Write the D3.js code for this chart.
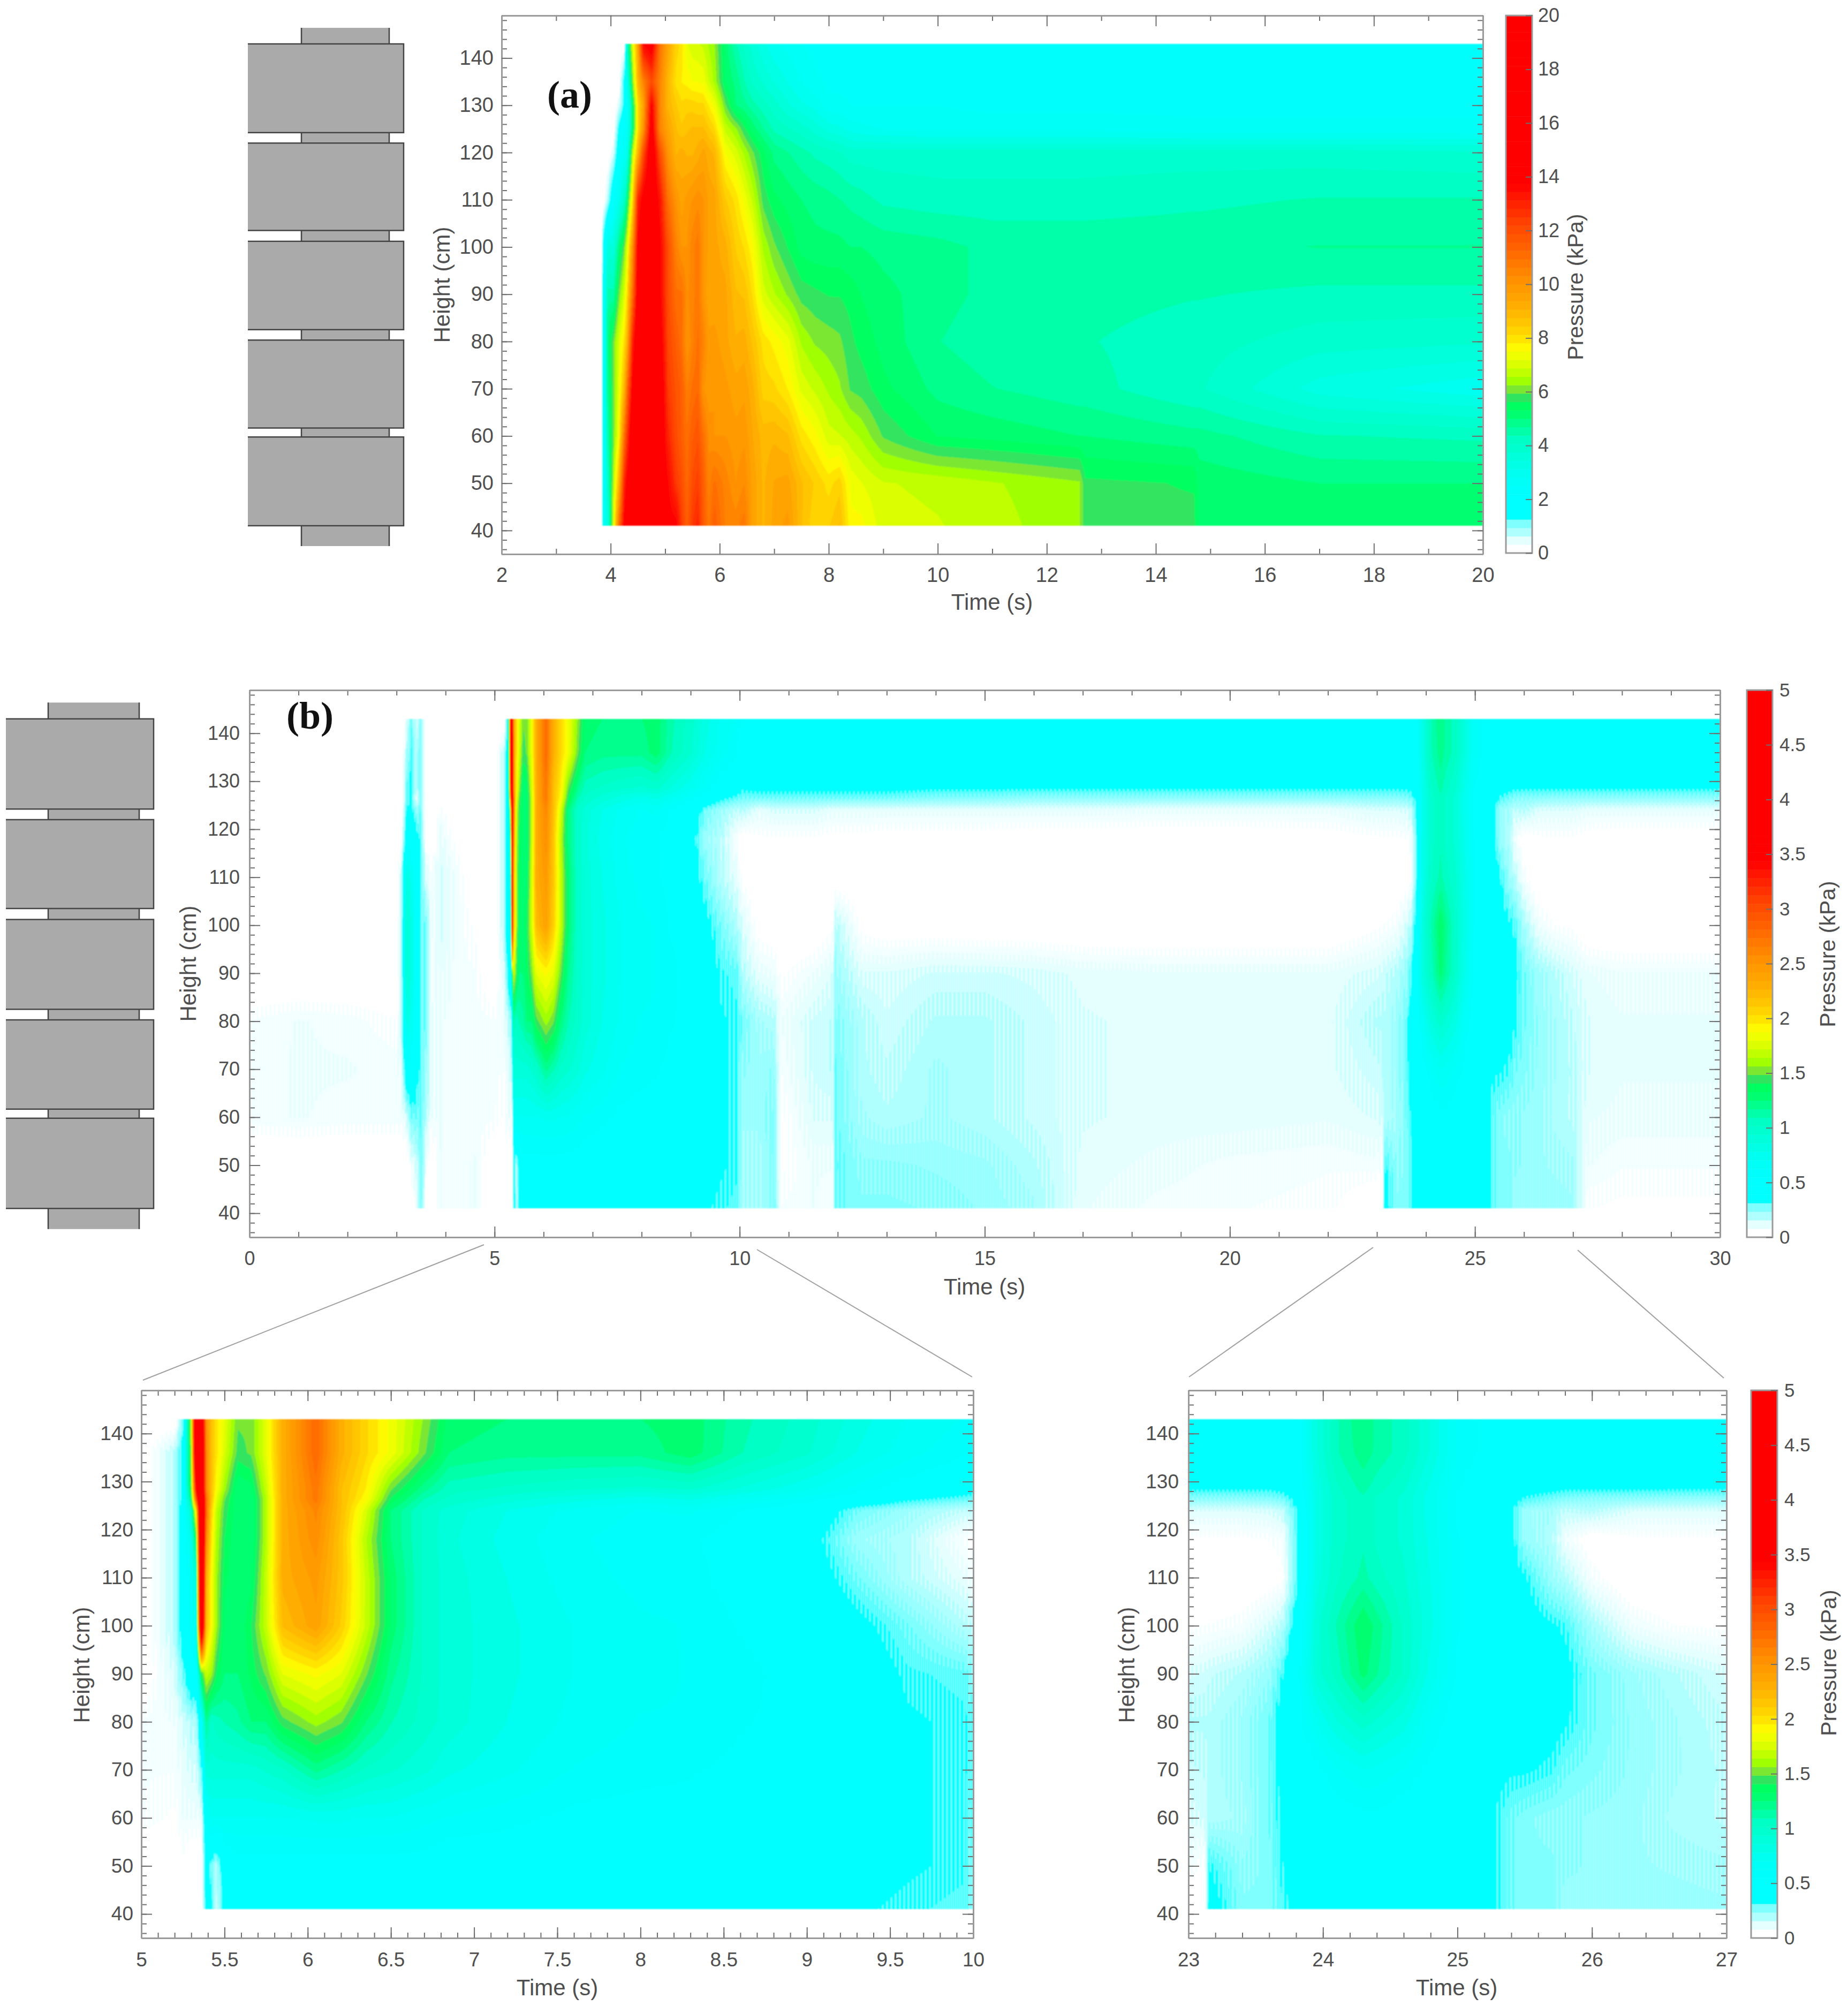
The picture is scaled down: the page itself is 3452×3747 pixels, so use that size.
<!DOCTYPE html>
<html><head><meta charset="utf-8">
<script src="https://cdnjs.cloudflare.com/ajax/libs/d3/7.8.5/d3.min.js"></script>
<style>html,body{margin:0;padding:0;background:#fff}svg{display:block}</style>
</head><body><svg id="fig" width="3452" height="3747" xmlns="http://www.w3.org/2000/svg"></svg>
<script>
// ---------- DATA (pressure in kPa) ----------
const aHeights=[41,50,60,70,80,90,100,110,120,125,130,135,143];
const aTimes=[3.83,3.86,3.95,4.05,4.15,4.25,4.3,4.4,4.5,4.6,4.75,4.9,5.05,5.2,5.3,5.4,5.5,5.6,5.7,5.8,5.9,6.1,6.3,6.45,6.6,6.8,7,7.25,7.5,7.75,8,8.2,8.4,8.6,9,10,11,12.6,12.7,14.7,14.8,17,20];
const aValues=[
[0,0,0,0,0,0,0,0,0,0,0,0,0],
[2.5,2,2,2,2,2,1.5,0,0,0,0,0,0],
[3.5,4,4.5,4.8,5,4.5,3.5,.8,0,0,0,0,0],
[7,6.5,6,6,6,4.5,3.5,2.2,.5,0,0,0,0],
[11,9,7.5,7.2,7,6,5,3,2,1.5,.5,0,0],
[14,13,11,9,8,7,6,4,2.6,2.2,1.5,1.6,0],
[14.5,14,12.5,11,9,8,7,5,3,2.6,2.2,3,4],
[15,15,15,14,13,11,10,8,6.5,5,5,6,7],
[15,15,15,15,15,14.5,14,13,9,8,8,9,9.5],
[15,15,15,15,15,15,15,14.2,12,10,9.5,10.5,13.8],
[15,15,15,15,15,15,15,15,15,14.5,14,12,14.5],
[15,15,15,15,14.5,14,14,13.5,12,10.5,10.5,10.5,11],
[14.2,13.8,13,12.5,12.2,12,12,11,10,9.5,9,9,9.5],
[14,12.5,12,11.8,11.5,11,10.5,10,9,8.8,8.5,8,8.3],
[12.5,12,11.5,11.5,11,11,10,9.5,9.2,8.5,8.2,7.8,8],
[11.5,11.2,11,10.6,10,10.2,10,9.8,9,8.7,8.3,7.7,7.2],
[12.5,12,11.5,11,10.5,10.5,10.5,10,9,8.8,8.3,7.5,7],
[13,12.4,11.8,11.2,11,10.8,10.8,10.2,9.2,8.8,8.2,7.5,6.9],
[11.6,11.5,11,10,10.5,10,10,10,9.5,8.8,8.2,7.4,6.8],
[10.8,10.5,10.2,9.8,9.8,9.4,9.6,9.6,9.2,8.5,7.8,6.9,6.5],
[11.5,11,10,10,9.8,9.5,9.5,9.5,9,8.2,7.4,6.5,6.3],
[10.6,10.5,10,9.8,9.5,9.5,9.2,8.5,7.5,6.8,6,5.3,5.2],
[10.5,10,9.8,9.5,9.1,8.8,8.4,8,7,6.3,5,4.9,4.4],
[10.8,10.3,9.9,9.6,9.2,8.7,8.1,7.4,6.5,5.7,4.8,4.4,4],
[9.6,9.6,9.4,9.2,8.7,8.1,7.6,6.8,6,5.2,4.5,4,3.6],
[9,9,8.9,8.3,8,7,6.5,5.8,5.4,4.7,4.2,3.7,3.2],
[9.5,9.4,9,8.2,7.7,6.6,6,5.4,4.9,4.3,3.9,3.4,2.9],
[9.8,9.5,8.8,7.8,7.3,6.2,5.6,5.2,4.7,4.1,3.5,3.1,2.7],
[8.8,8.8,8,7.1,6.5,5.8,5.2,5,4.5,3.9,3.2,2.8,2.5],
[8.2,8.4,7.6,6.8,6.2,5.7,5.1,4.9,4.3,3.6,3,2.6,2.4],
[8.4,8,7,6.5,6.1,5.6,5.1,4.8,4.2,3.3,2.6,2.4,2.4],
[8.8,8.3,6.9,6.3,6,5.6,5.1,4.7,4.1,3.2,2.6,2.4,2.4],
[7.6,7.4,6.7,5.9,5.7,5.5,5,4.6,3.9,3,2.5,2.4,2.4],
[7.6,7.2,6.5,5.8,5.5,5.3,5,4.5,3.9,2.9,2.5,2.4,2.4],
[7,6.9,5.9,5.4,5.2,5.1,4.9,4.3,3.9,2.8,2.5,2.4,2.4],
[6.9,6.8,5.3,4.9,4.7,4.8,4.8,4.2,3.9,2.7,2.5,2.4,2.4],
[6.7,6.6,5.2,4.7,4.5,4.6,4.6,4.2,3.9,2.7,2.4,2.4,2.4],
[6.3,6.3,5,4.5,4.4,4.5,4.6,4.2,3.9,2.7,2.4,2.4,2.4],
[5.7,5.7,5,4.5,4.4,4.5,4.6,4.2,3.9,2.7,2.4,2.4,2.4],
[5.7,5.6,4.8,4.1,4.2,4.4,4.6,4.3,3.9,2.6,2.4,2.4,2.4],
[5.2,5.2,4.8,4.1,4.2,4.4,4.6,4.3,3.9,2.6,2.4,2.4,2.4],
[5,5,4.4,3.3,3.9,4.3,4.7,4.4,3.9,2.6,2.4,2.4,2.4],
[5,5,4.3,2.9,3.8,4.3,4.7,4.4,3.8,2.6,2.4,2.4,2.4]
];
const bHeights=[41,50,60,70,80,90,100,110,118,124,126.5,128.5,136,143];
const bTimes=[0,1,2,3,3.1,3.2,3.3,3.4,3.5,3.6,3.7,3.9,4.2,4.6,5,5.2,5.25,5.3,5.33,5.36,5.39,5.42,5.45,5.5,5.58,5.66,5.75,5.85,6.05,6.2,6.35,6.5,6.7,6.85,7.2,7.6,8,8.3,8.6,9,9.3,9.6,9.95,10.05,10.4,10.7,10.85,11.5,11.9,11.95,12.5,13,14,15,16,17,18.5,20,22,23,23.12,23.15,23.4,23.6,23.7,23.8,23.95,24.1,24.3,24.4,24.6,24.8,25,25.25,25.4,25.5,25.7,25.8,26,26.3,26.6,27,27.3,28,30];
const bValues=[
[0,0,.09,.09,.08,0,0,0,0,0,0,0,0,0],
[0,0,.1,.1,.1,0,0,0,0,0,0,0,0,0],
[0,0,.09,.1,.09,0,0,0,0,0,0,0,0,0],
[0,0,.09,.09,.06,0,0,0,0,0,0,0,0,0],
[0,0,.09,.12,.2,.2,.2,.2,.05,0,0,0,0,0],
[0,0,.15,.5,.8,.95,.95,.85,.45,.35,.3,.3,.2,.1],
[0,.1,.3,.5,.75,.85,.85,.75,.45,.4,.35,.35,.35,.3],
[.1,.15,.3,.4,.45,.5,.5,.45,.4,.25,.1,.2,.2,.15],
[.3,.3,.3,.3,.3,.3,.3,.3,.3,.3,.3,.3,.3,.3],
[.05,.1,.2,.25,.3,.3,.3,.15,.05,0,0,0,0,0],
[0,0,.1,.12,.1,.09,.09,.09,0,0,0,0,0,0],
[.1,.1,.1,.1,.1,.12,.15,.15,.12,.08,0,0,0,0],
[.09,.09,.09,.09,.09,.09,.1,.1,.05,0,0,0,0,0],
[.1,.1,.09,.09,.09,.08,.05,0,0,0,0,0,0,0],
[0,0,.08,.08,.08,0,0,0,0,0,0,0,0,0],
[0,0,.05,.08,.1,.15,.2,.2,.2,.2,.2,.2,.2,0],
[0,.05,.1,.12,.15,.3,.45,.45,.45,.45,.4,.4,.4,.3],
[0,0,.1,.15,.2,.5,.6,.7,.8,1,1.3,1.5,1.6,1.7],
[0,0,.1,.15,.2,.5,.7,.9,1.4,2,3,3.5,4.5,4.6],
[0,0,.1,.3,.6,1.4,4.5,4.8,4.8,4.8,4.6,4.4,4.4,4.2],
[.4,.45,.6,.9,1.2,1.7,2.2,2.3,2.6,2.8,2.8,2.6,2.6,2.5],
[.4,.3,.7,.9,1,1.6,1.9,1.9,2,2.1,2.2,2.2,2.2,2.2],
[.15,.2,.7,.9,1.05,1.4,1.6,1.6,1.65,1.7,1.8,1.9,2,2],
[.4,.45,.7,.9,1.1,1.25,1.3,1.35,1.4,1.45,1.5,1.6,1.75,1.8],
[.35,.5,.7,.9,1.15,1.25,1.25,1.25,1.25,1.25,1.25,1.25,1.45,1.5],
[.4,.5,.7,.9,1.25,1.35,1.4,1.3,1.25,1.25,1.25,1.3,1.5,1.5],
[.4,.5,.7,.95,1.25,1.5,1.7,1.7,1.65,1.65,1.65,1.7,1.8,1.8],
[.4,.5,.7,1,1.45,1.8,2.2,2.3,2.3,2.3,2.3,2.3,2.3,2.3],
[.4,.5,.72,1.2,1.6,1.9,2.4,2.45,2.55,2.6,2.7,2.7,2.8,2.8],
[.4,.5,.72,1.1,1.5,1.8,2.1,2.15,2.15,2.2,2.2,2.2,2.3,2.3],
[.4,.5,.7,1,1.25,1.5,1.7,1.7,1.65,1.75,1.9,1.95,2.05,2.05],
[.4,.5,.7,.95,1.1,1.2,1.3,1.3,1.25,1.25,1.4,1.5,1.85,1.85],
[.4,.5,.65,.88,.98,1,1,1,1,1,1.1,1.2,1.5,1.55],
[.4,.45,.62,.8,.9,.9,.9,.9,.88,.9,1,1.05,1.25,1.3],
[.38,.45,.58,.72,.78,.8,.8,.78,.75,.78,.9,1,1.2,1.25],
[.38,.42,.52,.62,.68,.7,.7,.66,.64,.68,.82,.95,1.2,1.25],
[.38,.42,.5,.58,.62,.65,.64,.6,.58,.62,.75,.92,1.2,1.25],
[.38,.42,.5,.56,.62,.62,.62,.58,.56,.64,.8,.95,1.3,1.3],
[.36,.4,.45,.52,.56,.58,.54,.5,.5,.55,.7,.85,1.1,1.12],
[.36,.4,.42,.48,.5,.5,.46,.42,.4,.46,.6,.72,.95,.98],
[.36,.38,.4,.42,.44,.42,.38,.3,.24,.3,.48,.6,.78,.82],
[.34,.36,.36,.36,.36,.34,.3,.2,.2,.24,.38,.5,.66,.7],
[.32,.34,.34,.34,.34,.32,.2,.12,.07,.18,.32,.42,.56,.62],
[.22,.22,.24,.26,.3,.2,.15,.05,.02,.2,.3,.36,.5,.55],
[.22,.22,.24,.24,.22,.12,.03,0,.05,.12,.3,.38,.5,.5],
[.28,.28,.28,.26,.2,.1,.02,0,.05,.15,.3,.38,.45,.48],
[.08,.05,.05,.08,.1,.05,0,0,.05,.15,.3,.38,.45,.48],
[.1,.1,.14,.16,.16,.1,0,0,.05,.15,.3,.38,.45,.45],
[.08,.1,.14,.18,.18,.14,.05,0,.04,.12,.3,.38,.42,.42],
[.3,.32,.3,.3,.28,.24,.2,.01,.04,.12,.3,.38,.42,.42],
[.28,.26,.22,.2,.2,.14,.04,0,.04,.12,.3,.38,.42,.42],
[.28,.26,.2,.18,.16,.14,.02,0,.03,.12,.3,.38,.42,.42],
[.27,.25,.22,.22,.2,.16,.02,0,.03,.12,.28,.36,.42,.42],
[.25,.24,.2,.2,.2,.16,.01,0,.03,.12,.28,.36,.42,.42],
[.22,.2,.17,.17,.17,.15,.01,0,.02,.12,.26,.36,.42,.42],
[.12,.13,.14,.14,.14,.13,0,0,.02,.12,.26,.36,.42,.42],
[.09,.11,.13,.13,.13,.12,0,0,.02,.11,.26,.36,.42,.42],
[.08,.09,.13,.13,.13,.12,0,0,.02,.11,.26,.36,.42,.42],
[.07,.08,.12,.13,.13,.12,0,0,.03,.11,.26,.36,.42,.42],
[0,.09,.14,.17,.2,.15,.05,0,.05,.14,.27,.36,.42,.42],
[0,.05,.16,.18,.2,.16,.06,0,.05,.14,.27,.36,.42,.42],
[.4,.35,.2,.2,.2,.17,.06,0,.05,.14,.27,.36,.42,.42],
[.28,.26,.22,.24,.24,.2,.08,0,.05,.14,.27,.36,.42,.42],
[.28,.28,.3,.3,.3,.25,.15,.02,.06,.15,.28,.36,.42,.42],
[.33,.35,.36,.38,.4,.34,.2,.05,.08,.18,.3,.38,.45,.45],
[.38,.38,.4,.44,.5,.52,.42,.3,.3,.34,.38,.44,.5,.5],
[.4,.4,.44,.52,.7,.9,.9,.82,.8,.8,.8,.8,.85,.85],
[.42,.42,.48,.62,.85,1.05,1.1,1,.98,.98,.98,1,1.08,1.08],
[.42,.46,.52,.7,.98,1.28,1.33,1.12,1.08,1.08,1.08,1.12,1.22,1.25],
[.42,.46,.52,.68,.92,1.18,1.22,1.05,1,1,1,1.05,1.15,1.15],
[.42,.42,.48,.62,.82,1,1,.95,.92,.92,.92,.95,1.05,1.05],
[.38,.4,.44,.52,.62,.75,.8,.78,.76,.74,.74,.76,.85,.85],
[.38,.38,.4,.44,.48,.54,.56,.56,.56,.54,.54,.56,.62,.62],
[.36,.36,.36,.38,.42,.44,.44,.44,.44,.44,.44,.44,.5,.5],
[.3,.3,.3,.36,.38,.4,.4,.38,.38,.36,.4,.42,.45,.45],
[.28,.28,.28,.36,.38,.4,.4,.36,.25,.24,.34,.4,.45,.45],
[.28,.28,.26,.34,.38,.38,.36,.24,.2,.22,.3,.38,.44,.44],
[.24,.26,.26,.3,.36,.38,.34,.2,.1,.18,.28,.36,.42,.42],
[.25,.25,.25,.28,.3,.3,.22,.08,.02,.2,.27,.36,.42,.42],
[.25,.24,.24,.25,.25,.24,.1,0,.05,.14,.27,.36,.42,.42],
[.25,.23,.21,.22,.22,.2,.06,0,.05,.14,.26,.36,.42,.42],
[.24,.22,.19,.19,.18,.15,.05,0,.05,.14,.26,.36,.42,.42],
[.06,.1,.12,.14,.14,.12,0,0,.03,.12,.26,.36,.42,.42],
[.05,.08,.11,.12,.12,.1,0,0,.02,.12,.26,.36,.42,.42],
[.05,.08,.11,.12,.12,.1,0,0,.02,.12,.26,.36,.42,.42]
];
if(aTimes.length!==aValues.length)throw new Error('a len '+aTimes.length+' '+aValues.length);
if(bTimes.length!==bValues.length)throw new Error('b len '+bTimes.length+' '+bValues.length);

// Section edges of the test column (cm), and the core rail
const sectionRanges=[[143,124.2],[122,103.5],[101.2,82.5],[80.3,61.7],[59.8,41]];
const railRange=[146.4,36.7];
const heightTicks=[40,50,60,70,80,90,100,110,120,130,140];
const heightMinor=d3.range(36,149,2);
const cbarA=[0,2,4,6,8,10,12,14,16,18,20];
const cbarB=[0,.5,1,1.5,2,2.5,3,3.5,4,4.5,5];

// ---------- LAYOUT ----------
const TXT='#4f4f4f', FONT="'Liberation Sans',Arial,sans-serif";
const panels=[
 {box:[937,29,2770,1035],dom:[2,20],major:d3.range(2,21,2),minor:d3.range(3,20,2),T:aTimes,H:aHeights,V:aValues,max:20,fs:38,padX:25,padY:15,hx:825,hy:532,tx:1853,ty:1124,streak:false},
 {box:[466,1289,3213,2311],dom:[0,30],major:d3.range(0,31,5),minor:d3.range(1,30,1),T:bTimes,H:bHeights,V:bValues,max:5,fs:36,padX:26,padY:18,hx:351,hy:1800,tx:1839,ty:2403,streak:true},
 {box:[264,2597,1818,3620],dom:[5,10],major:d3.range(5,10.01,.5),minor:d3.range(5.1,10,.1),T:bTimes,H:bHeights,V:bValues,max:5,fs:37,padX:27,padY:15,hx:152,hy:3110,tx:1041,ty:3712,streak:true},
 {box:[2220,2597,3225,3620],dom:[23,27],major:d3.range(23,27.01,1),minor:d3.range(23.2,27,.2),T:bTimes,H:bHeights,V:bValues,max:5,fs:37,padX:27,padY:18,hx:2104,hy:3110,tx:2721,ty:3712,streak:true}
];
const colorbars=[
 {box:[2813,29,2862,1033],ticks:cbarA,max:20,pad:11,fs:36,lx:2943,ly:536},
 {box:[3263,1289,3311,2311],ticks:cbarB,max:5,pad:13,fs:35,lx:3414,ly:1782},
 {box:[3271,2597,3320,3620],ticks:cbarB,max:5,pad:13,fs:35,lx:3416,ly:3106}
];
const schematics=[
 {panel:0,block:[463,754],rail:[563,727]},
 {panel:1,block:[11,287],rail:[90,260]}
];
const connectors=[[904,2325,267,2578],[1414,2334,1816,2572],[2565,2330,2221,2572],[2947,2335,3220,2574]];
const letters=[{t:'(a)',x:1022,y:201},{t:'(b)',x:535,y:1361}];

// ---------- COLOUR MAP: 64 stepped levels ----------
const LEVELS=64;
const ramp=d3.scaleLinear()
 .domain([0,1,2,3,4,6.4,9,13,16,17,18,18.7,20,21.5,23.7,25.6,28.7,32,36,38.4,43.5,64])
 .range(['#ffffff','#e5ffff','#b0ffff','#80ffff','#00ffff','#00ffff','#00fff0','#00ffc4','#00ff70','#00ff60','#30e460','#70e040','#a0ff00','#d0ff00','#ffff00','#ffd800','#ffb000','#ff9000','#ff6000','#ff4800','#ff0000','#ff0000'])
 .interpolate(d3.interpolateRgb);
const levelColors=d3.range(LEVELS).map(i=>d3.rgb(ramp(i)));
// fine vertical stripes of the light levels, as the source's dense time samples give
const STRIPE=[0,.5,.25,.75];
const levelOf=(v,px,streak)=>{
  let q=v*LEVELS;
  if(streak&&q<5)q+=STRIPE[Math.floor(px/2)%4]-.5;
  return Math.max(0,Math.min(LEVELS-1,Math.floor(q)));
};

function sample(T,H,V,t,h){
  if(t<T[0]||t>T[T.length-1]||h<H[0]||h>H[H.length-1])return null;
  let i=Math.min(d3.bisectRight(T,t),T.length-1), j=Math.min(d3.bisectRight(H,h),H.length-1);
  const a=(t-T[i-1])/(T[i]-T[i-1]), b=(h-H[j-1])/(H[j]-H[j-1]);
  return (V[i-1][j-1]*(1-b)+V[i-1][j]*b)*(1-a)+(V[i][j-1]*(1-b)+V[i][j]*b)*a;
}

const svg=d3.select('#fig');
svg.append('rect').attr('width',3452).attr('height',3747).attr('fill','#fff');
svg.append('defs').append('filter').attr('id','soft').attr('x','-1%').attr('y','-1%').attr('width','102%').attr('height','102%')
  .append('feGaussianBlur').attr('stdDeviation',1.2);

function styleAxis(g,fs){
  g.select('.domain').attr('stroke','#9a9a9a').attr('stroke-width',3);
  g.selectAll('.tick line').attr('stroke','#6f6f6f').attr('stroke-width',2);
  g.selectAll('text').attr('font-family',FONT).attr('font-size',fs).attr('fill',TXT);
}
const fmt=d=>String(+d.toFixed(2));

const scales=panels.map(p=>{
  const [x0,y0,x1,y1]=p.box;
  const x=d3.scaleLinear().domain(p.dom).range([x0,x1]);
  const y=d3.scaleLinear().domain([35,149]).range([y1,y0]);
  const w=Math.round(x1-x0),h=Math.round(y1-y0);
  const cv=document.createElement('canvas');cv.width=w;cv.height=h;
  const ctx=cv.getContext('2d');const im=ctx.createImageData(w,h);
  for(let py=0;py<h;py++){const hv=y.invert(y0+py+.5);
    for(let px=0;px<w;px++){const t=x.invert(x0+px+.5);
      const v=sample(p.T,p.H,p.V,t,hv);
      if(v===null)continue;
      const c=levelColors[levelOf(v/p.max,px,p.streak)],k=(py*w+px)*4;
      im.data[k]=c.r;im.data[k+1]=c.g;im.data[k+2]=c.b;im.data[k+3]=255;}}
  ctx.putImageData(im,0,0);
  const g=svg.append('g');
  g.append('image').attr('x',x0).attr('y',y0).attr('width',w).attr('height',h).attr('filter','url(#soft)').attr('href',cv.toDataURL());
  const mk=(axis,scale,vals,sz,tx,ty,labels,pad)=>{
    const a=axis(scale).tickValues(vals).tickSizeInner(-sz).tickSizeOuter(0).tickPadding(pad||0).tickFormat(labels?fmt:'');
    const gg=g.append('g').attr('transform',`translate(${tx},${ty})`).call(a);styleAxis(gg,p.fs);return gg;};
  mk(d3.axisBottom,x,p.minor,10,0,y1);mk(d3.axisTop,x,p.minor,10,0,y0);
  mk(d3.axisLeft,y,heightMinor,10,x0,0);mk(d3.axisRight,y,heightMinor,10,x1,0);
  mk(d3.axisBottom,x,p.major,20,0,y1,true,p.padX);mk(d3.axisTop,x,p.major,20,0,y0);
  mk(d3.axisLeft,y,heightTicks,20,x0,0,true,p.padY);mk(d3.axisRight,y,heightTicks,20,x1,0);
  const ttl=(s,tx,ty,rot)=>g.append('text').text(s).attr('text-anchor','middle').attr('dominant-baseline','central')
    .attr('transform',`translate(${tx},${ty})`+(rot?' rotate(-90)':'')).attr('font-family',FONT).attr('font-size',42).attr('fill',TXT);
  ttl('Height (cm)',p.hx,p.hy,true);ttl('Time (s)',p.tx,p.ty,false);
  return {x,y};
});

colorbars.forEach(c=>{
  const [x0,y0,x1,y1]=c.box;
  const y=d3.scaleLinear().domain([0,c.max]).range([y1,y0]);
  const g=svg.append('g');
  g.selectAll('rect.l').data(d3.range(LEVELS)).join('rect').attr('x',x0).attr('width',x1-x0)
    .attr('y',i=>y((i+1)/LEVELS*c.max)).attr('height',i=>y(i/LEVELS*c.max)-y((i+1)/LEVELS*c.max)+.5)
    .attr('fill',i=>levelColors[i].formatHex());
  g.append('rect').attr('x',x0).attr('y',y0).attr('width',x1-x0).attr('height',y1-y0).attr('fill','none').attr('stroke','#9a9a9a').attr('stroke-width',3);
  const gg=g.append('g').attr('transform',`translate(${x1},0)`).call(d3.axisRight(y).tickValues(c.ticks).tickSizeInner(-12).tickSizeOuter(0).tickPadding(c.pad).tickFormat(fmt));
  styleAxis(gg,c.fs);gg.select('.domain').attr('stroke','none');
  g.append('text').text('Pressure (kPa)').attr('text-anchor','middle').attr('dominant-baseline','central')
    .attr('transform',`translate(${c.lx},${c.ly}) rotate(-90)`).attr('font-family',FONT).attr('font-size',41).attr('fill',TXT);
});

schematics.forEach(s=>{
  const y=scales[s.panel].y,g=svg.append('g');
  g.append('rect').attr('x',s.rail[0]).attr('width',s.rail[1]-s.rail[0]).attr('y',y(railRange[0])).attr('height',y(railRange[1])-y(railRange[0])).attr('fill','#aaaaaa');
  s.rail.forEach(xx=>g.append('line').attr('x1',xx).attr('x2',xx).attr('y1',y(railRange[0])).attr('y2',y(railRange[1])).attr('stroke','#444').attr('stroke-width',2.5));
  g.selectAll('rect.b').data(sectionRanges).join('rect').attr('x',s.block[0]).attr('width',s.block[1]-s.block[0])
    .attr('y',d=>y(d[0])).attr('height',d=>y(d[1])-y(d[0])).attr('fill','#aaaaaa');
  g.selectAll('path.e').data(sectionRanges).join('path').attr('fill','none').attr('stroke','#444').attr('stroke-width',2.5)
    .attr('d',d=>`M${s.block[0]},${y(d[0])}H${s.block[1]}V${y(d[1])}H${s.block[0]}`);
});

connectors.forEach(c=>svg.append('line').attr('x1',c[0]).attr('y1',c[1]).attr('x2',c[2]).attr('y2',c[3]).attr('stroke','#a0a0a0').attr('stroke-width',2));
letters.forEach(l=>svg.append('text').text(l.t).attr('x',l.x).attr('y',l.y).attr('font-family',"'Liberation Serif',serif").attr('font-weight','bold').attr('font-size',72).attr('fill','#111'));
</script></body></html>
